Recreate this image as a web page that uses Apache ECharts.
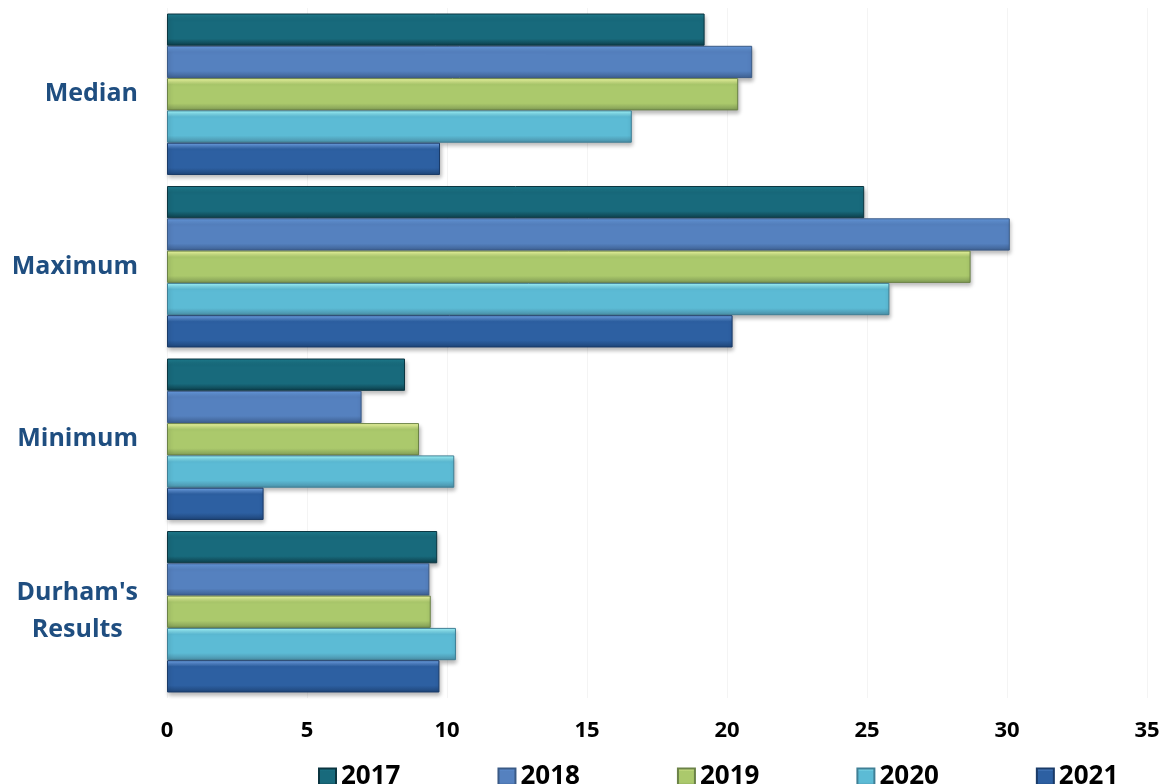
<!DOCTYPE html>
<html>
<head>
<meta charset="utf-8">
<script src="https://cdn.jsdelivr.net/npm/echarts@6/dist/echarts.min.js"></script>
<style>html,body{margin:0;padding:0;background:#fff}#c{width:1164px;height:784px}</style>
</head>
<body>
<div id="c"></div>
<script>
const categories = ["Median", "Maximum", "Minimum", "Durham's Results"];
const years = ["2017", "2018", "2019", "2020", "2021"];
const v2017 = [19.2, 24.9, 8.5, 9.65];
const v2018 = [20.9, 30.1, 6.95, 9.37];
const v2019 = [20.4, 28.7, 9.0, 9.42];
const v2020 = [16.6, 25.8, 10.26, 10.32];
const v2021 = [9.75, 20.2, 3.45, 9.73];
const xTicks = [0, 5, 10, 15, 20, 25, 30, 35];

const values = [v2017, v2018, v2019, v2020, v2021];
const palettes = [
  {top:'#1f7e90', mid:'#186a7c', bot:'#0c3c48', border:'#0b3540'},
  {top:'#679be0', mid:'#5581bf', bot:'#3d5f90', border:'#3a5a86'},
  {top:'#f4ffa6', mid:'#abc96c', bot:'#7f9a54', border:'#6b8247'},
  {top:'#a6faff', mid:'#5cbbd5', bot:'#4a8ea6', border:'#3f7f95'},
  {top:'#74a7ea', mid:'#2d60a2', bot:'#1e4477', border:'#1a3b68'}
];
function grad(p){
  return new echarts.graphic.LinearGradient(0,0,0,1,[
    {offset:0, color:p.top},{offset:0.2, color:p.mid},{offset:0.78, color:p.mid},{offset:1, color:p.bot}
  ]);
}
const series = years.map((y,i)=>({
  name:y, type:'bar', data: values[i],
  barGap:'0%', barCategoryGap:'6.4%',
  itemStyle:{color:grad(palettes[i]), borderColor:palettes[i].border, borderWidth:1,
    shadowColor:'rgba(0,0,0,0.28)', shadowBlur:4, shadowOffsetY:3, shadowOffsetX:1}
}));

const chart = echarts.init(document.getElementById('c'), null, {renderer:'canvas'});
chart.setOption({
  animation:false,
  grid:{left:167, right:17, top:8, bottom:86, containLabel:false},
  legend:{
    data: years, left:313, top:759, itemWidth:17, itemHeight:17, itemGap:97,
    icon:'rect',
    textStyle:{fontFamily:'Open Sans', fontWeight:'bold', fontSize:26, color:'#000', lineHeight:26}
  },
  xAxis:{
    type:'value', min:xTicks[0], max:xTicks[xTicks.length-1], interval:5,
    axisLine:{show:false}, axisTick:{show:false},
    splitLine:{show:true, lineStyle:{color:'#f4f4f4', width:1}},
    axisLabel:{margin:22, fontFamily:'Open Sans', fontWeight:'bold', fontSize:22, color:'#000', lineHeight:22}
  },
  yAxis:{
    type:'category', data:categories, inverse:true,
    axisLine:{show:false}, axisTick:{show:false},
    axisLabel:{
      margin:29,
      formatter:function(v){
        if (v.indexOf(' ')>0 && v.length>10){ return v.split(' ').map(s=>'{c|'+s+'}').join('\n'); }
        return '{c|'+v+'}';
      },
      rich:{c:{align:'center', fontFamily:'Open Sans', fontWeight:'bold', fontSize:25, color:'#1f4e80', lineHeight:37}}
    }
  },
  series: series
});
</script>
</body>
</html>
